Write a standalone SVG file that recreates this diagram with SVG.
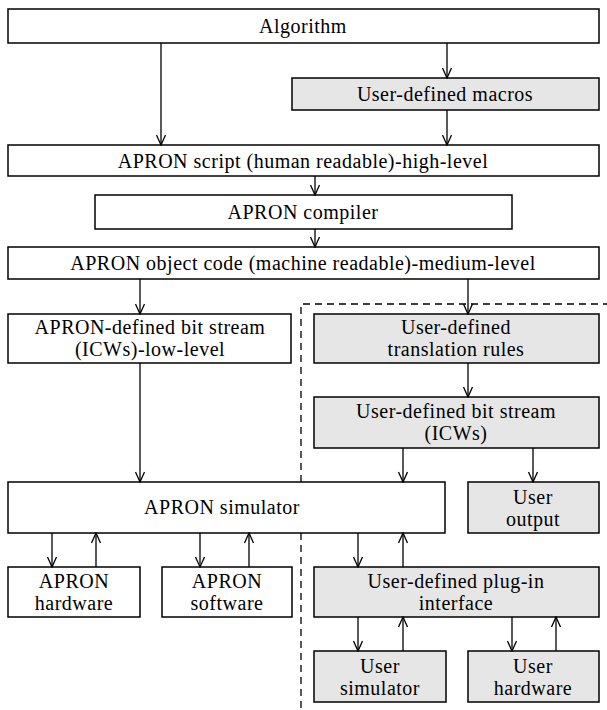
<svg xmlns="http://www.w3.org/2000/svg" width="607" height="710" viewBox="0 0 607 710" font-family="'Liberation Serif', 'DejaVu Serif', serif">
<style>
.b{fill:#fff;stroke:#000;stroke-width:1.5}
.g{fill:#e6e6e6;stroke:#000;stroke-width:1.5}
.t{font-family:'Liberation Serif','DejaVu Serif',serif;font-size:20px;letter-spacing:0.5px;text-anchor:middle;fill:#000}
.c line{stroke:#000;stroke-width:1.3}
</style>
<defs>
<marker id="ah" viewBox="0 0 12 10" refX="11" refY="5" markerWidth="12" markerHeight="10" markerUnits="userSpaceOnUse" orient="auto">
<path d="M1,0.5 L11,5 L1,9.5" fill="none" stroke="#000" stroke-width="1.3"/>
</marker>
</defs>
<rect width="607" height="710" fill="#fff"/>
<g id="boundary"><path d="M301,482 L301,304 L607,304 M301,533 L301,708" fill="none" stroke="#000" stroke-width="1.3" stroke-dasharray="7,5"/></g>
<g id="algorithm"><rect class="b" x="8" y="9" width="591" height="34"/><text class="t" x="303" y="33">Algorithm</text></g>
<g id="macros"><rect class="g" x="292" y="78" width="307" height="32"/><text class="t" x="445" y="101">User-defined macros</text></g>
<g id="script"><rect class="b" x="8" y="145" width="591" height="31"/><text class="t" x="303" y="168">APRON script (human readable)-high-level</text></g>
<g id="compiler"><rect class="b" x="95" y="195" width="417" height="34"/><text class="t" x="303" y="219">APRON compiler</text></g>
<g id="objcode"><rect class="b" x="8" y="247" width="591" height="32"/><text class="t" x="303" y="270">APRON object code (machine readable)-medium-level</text></g>
<g id="apronbits"><rect class="b" x="8" y="314" width="283" height="49"/><text class="t" x="150" y="334">APRON-defined bit stream</text><text class="t" x="150" y="356">(ICWs)-low-level</text></g>
<g id="translation"><rect class="g" x="314" y="314" width="285" height="49"/><text class="t" x="456" y="334">User-defined</text><text class="t" x="456" y="356">translation rules</text></g>
<g id="userbits"><rect class="g" x="314" y="397" width="285" height="51"/><text class="t" x="456" y="418">User-defined bit stream</text><text class="t" x="456" y="440">(ICWs)</text></g>
<g id="simulator"><rect class="b" x="8" y="482" width="437" height="51"/><text class="t" x="222" y="514">APRON simulator</text></g>
<g id="output"><rect class="g" x="468" y="482" width="131" height="51"/><text class="t" x="533" y="504">User</text><text class="t" x="533" y="526">output</text></g>
<g id="hardware"><rect class="b" x="8" y="567" width="132" height="50"/><text class="t" x="74" y="588">APRON</text><text class="t" x="74" y="610">hardware</text></g>
<g id="software"><rect class="b" x="162" y="567" width="130" height="50"/><text class="t" x="227" y="588">APRON</text><text class="t" x="227" y="610">software</text></g>
<g id="plugin"><rect class="g" x="314" y="567" width="285" height="50"/><text class="t" x="456" y="588">User-defined plug-in</text><text class="t" x="456" y="610">interface</text></g>
<g id="usersim"><rect class="g" x="314" y="651" width="132" height="51"/><text class="t" x="380" y="673">User</text><text class="t" x="380" y="695">simulator</text></g>
<g id="userhw"><rect class="g" x="468" y="651" width="131" height="51"/><text class="t" x="533" y="673">User</text><text class="t" x="533" y="695">hardware</text></g>
<g id="connectors" class="c">
<line x1="161" y1="43" x2="161" y2="145" marker-end="url(#ah)"/>
<line x1="447" y1="43" x2="447" y2="78" marker-end="url(#ah)"/>
<line x1="447" y1="110" x2="447" y2="145" marker-end="url(#ah)"/>
<line x1="315" y1="176" x2="315" y2="195" marker-end="url(#ah)"/>
<line x1="315" y1="229" x2="315" y2="247" marker-end="url(#ah)"/>
<line x1="140" y1="279" x2="140" y2="314" marker-end="url(#ah)"/>
<line x1="468" y1="279" x2="468" y2="314" marker-end="url(#ah)"/>
<line x1="140" y1="363" x2="140" y2="482" marker-end="url(#ah)"/>
<line x1="468" y1="363" x2="468" y2="397" marker-end="url(#ah)"/>
<line x1="403" y1="448" x2="403" y2="482" marker-end="url(#ah)"/>
<line x1="533" y1="448" x2="533" y2="482" marker-end="url(#ah)"/>
<line x1="52" y1="533" x2="52" y2="567" marker-end="url(#ah)"/>
<line x1="96" y1="567" x2="96" y2="533" marker-end="url(#ah)"/>
<line x1="200" y1="533" x2="200" y2="567" marker-end="url(#ah)"/>
<line x1="249" y1="567" x2="249" y2="533" marker-end="url(#ah)"/>
<line x1="358" y1="533" x2="358" y2="567" marker-end="url(#ah)"/>
<line x1="403" y1="567" x2="403" y2="533" marker-end="url(#ah)"/>
<line x1="358" y1="617" x2="358" y2="651" marker-end="url(#ah)"/>
<line x1="403" y1="651" x2="403" y2="617" marker-end="url(#ah)"/>
<line x1="512" y1="617" x2="512" y2="651" marker-end="url(#ah)"/>
<line x1="556" y1="651" x2="556" y2="617" marker-end="url(#ah)"/>
</g>
</svg>
